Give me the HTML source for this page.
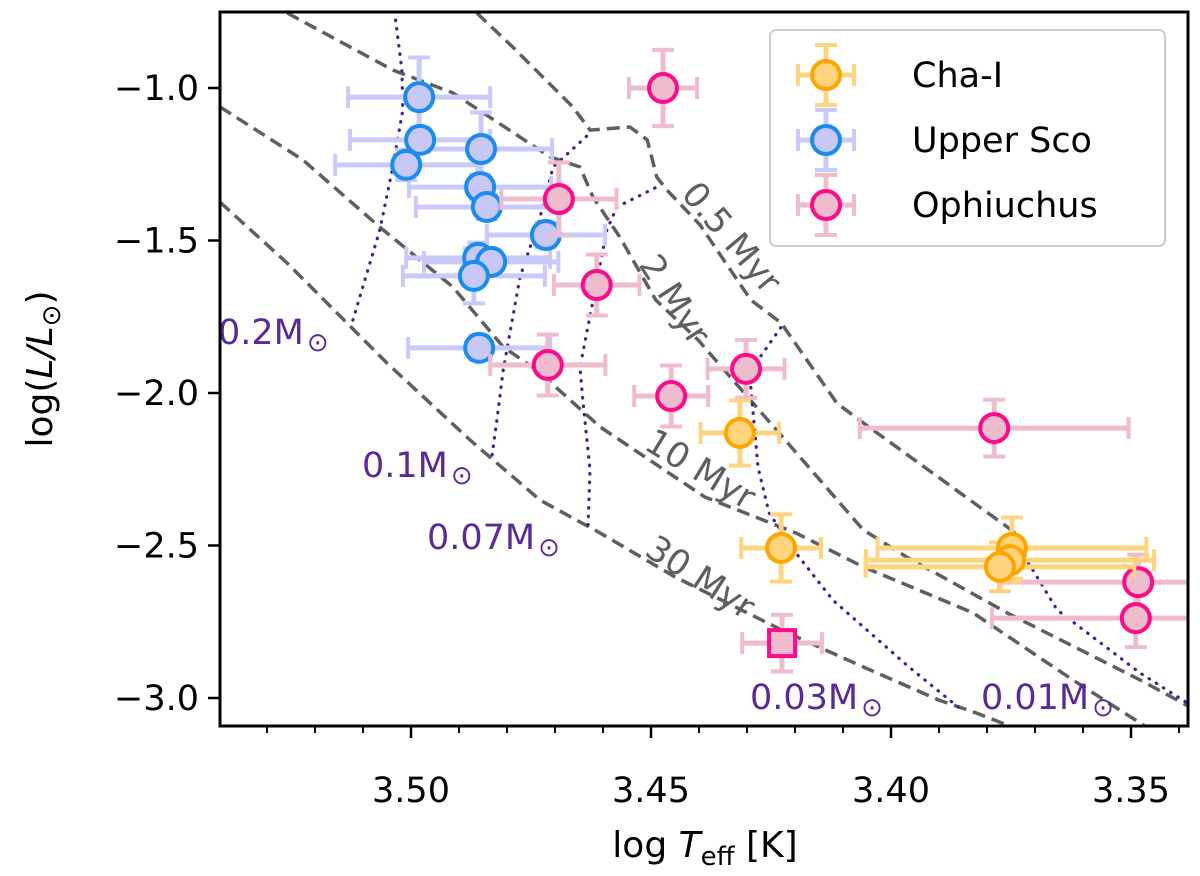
<!DOCTYPE html>
<html><head><meta charset="utf-8"><style>
html,body{margin:0;padding:0;background:#fff;}
svg{display:block;font-family:"DejaVu Sans","Liberation Sans",sans-serif;}
</style></head><body>
<svg id="chart" width="1200" height="876" viewBox="0 0 1200 876" xmlns="http://www.w3.org/2000/svg">
<defs><clipPath id="plotclip"><rect x="220" y="12" width="968" height="714"/></clipPath></defs>
<g id="plot" clip-path="url(#plotclip)"></g>
<g id="labels"></g>
<g id="axes"></g>
</svg>
<script>
// ---- data ----
const xTicks = [3.50, 3.45, 3.40, 3.35];
const xTickLabels = ["3.50", "3.45", "3.40", "3.35"];
const xMinor = [3.53,3.52,3.51,3.49,3.48,3.47,3.46,3.44,3.43,3.42,3.41,3.39,3.38,3.37,3.36,3.34];
const yTicks = [-1.0, -1.5, -2.0, -2.5, -3.0];
const yTickLabels = ["\u22121.0", "\u22121.5", "\u22122.0", "\u22122.5", "\u22123.0"];

const usT = [3.4983,3.4981,3.5010,3.4854,3.4856,3.4842,3.4719,3.4860,3.4833,3.4869,3.4858];
const usL = [-1.030,-1.170,-1.252,-1.200,-1.325,-1.390,-1.482,-1.557,-1.570,-1.616,-1.852];
const usTerr = [0.0148,0.0146,0.0148,0.0148,0.0148,0.0148,0.0123,0.0150,0.0140,0.0148,0.0148];
const usLerr = [0.13,0.04,0.05,0.12,0.04,0.04,0.04,0.05,0.04,0.09,0.04];

const ophT = [3.4475,3.4692,3.4613,3.4715,3.4458,3.4302,3.3785,3.3485,3.3490];
const ophL = [-1.000,-1.364,-1.646,-1.908,-2.010,-1.921,-2.115,-2.620,-2.738];
const ophTerr = [0.0071,0.012,0.0089,0.012,0.0077,0.008,0.028,0.029,0.030];
const ophLerr = [0.125,0.12,0.10,0.10,0.10,0.095,0.093,0.09,0.095];
const sqT = [3.4227];
const sqL = [-2.820];
const sqTerr = [0.0083];
const sqLerr = [0.093];

const chaT = [3.4315,3.4229,3.3748,3.3752,3.3773];
const chaL = [-2.131,-2.508,-2.508,-2.548,-2.570];
const chaTerr = [0.0082,0.0083,0.028,0.030,0.028];
const chaLerr = [0.107,0.11,0.10,0.07,0.08];

const iso05T = [3.4863,3.4788,3.4663,3.4627,3.4544,3.4508,3.4488,3.4467,3.4398,3.4292,3.4229,3.4113,3.4058,3.3758,3.3744];
const iso05L = [-0.754,-0.866,-1.062,-1.138,-1.128,-1.170,-1.292,-1.334,-1.449,-1.695,-1.770,-2.033,-2.098,-2.439,-2.456];
const iso2T = [3.5258,3.5038,3.4913,3.4710,3.4648,3.4621,3.4565,3.4490,3.4402,3.4215,3.4058,3.3967,3.3758,3.3481,3.3381];
const iso2L = [-0.754,-0.941,-1.016,-1.226,-1.259,-1.357,-1.489,-1.695,-1.826,-2.164,-2.449,-2.538,-2.721,-2.941,-3.026];
const iso10T = [3.5398,3.5225,3.5065,3.4913,3.4808,3.4738,3.4606,3.4388,3.4198,3.4058,3.3829,3.3621,3.3481,3.3471];
const iso10L = [-1.062,-1.236,-1.456,-1.652,-1.849,-1.925,-2.111,-2.341,-2.459,-2.570,-2.721,-2.941,-3.082,-3.092];
const iso30T = [3.5398,3.5258,3.5050,3.4877,3.4731,3.4606,3.4450,3.4215,3.4058,3.3900,3.3823,3.3752];
const iso30L = [-1.374,-1.574,-1.902,-2.154,-2.351,-2.459,-2.603,-2.787,-2.898,-3.007,-3.049,-3.092];

const m02T = [3.5121,3.5065,3.5038,3.5017,3.5019,3.5033];
const m02L = [-1.761,-1.466,-1.259,-1.072,-0.941,-0.767];
const m01T = [3.4831,3.4821,3.4808,3.4773,3.4731,3.4704,3.4627];
const m01L = [-2.203,-2.089,-1.925,-1.620,-1.423,-1.259,-1.148];
const m007T = [3.4631,3.4627,3.4642,3.4648,3.4592,3.4571,3.4488];
const m007L = [-2.433,-2.252,-2.023,-1.915,-1.466,-1.390,-1.325];
const m003T = [3.3860,3.3963,3.4121,3.4198,3.4254,3.4277,3.4292,3.4277,3.4229];
const m003L = [-3.030,-2.898,-2.679,-2.525,-2.393,-2.243,-1.980,-1.892,-1.784];
const m001T = [3.3744,3.3717,3.3654,3.3481,3.3383];
const m001L = [-2.456,-2.548,-2.711,-2.918,-3.016];

// ---- axes ----
const X0=220, X1=1188, Y0=12, Y1=726;
function xs(v){ return 411 + (3.50 - v) * 4800; }
function ys(v){ return 88 + (-1.0 - v) * 305; }

const NS="http://www.w3.org/2000/svg";
function mk(tag, attrs, parent){
  const e=document.createElementNS(NS,tag);
  for(const k in attrs) e.setAttribute(k, attrs[k]);
  parent.appendChild(e); return e;
}
const plot=document.getElementById('plot');
const labels=document.getElementById('labels');
const axes=document.getElementById('axes');

function poly(T,L,style,name){
  const pts=T.map((t,i)=>xs(t).toFixed(1)+','+ys(L[i]).toFixed(1)).join(' ');
  const e=mk('polyline',Object.assign({points:pts,fill:'none'},style),plot);
  
  
}
const dashed={stroke:'#5f5f5f','stroke-width':3.5,'stroke-dasharray':'13,7'};
const dotted={stroke:'#4b1f8c','stroke-width':3.2,'stroke-dasharray':'0.5,8','stroke-linecap':'round'};
poly(iso05T,iso05L,dashed,'isochrone-0.5myr');
poly(iso2T,iso2L,dashed,'isochrone-2myr');
poly(iso10T,iso10L,dashed,'isochrone-10myr');
poly(iso30T,iso30L,dashed,'isochrone-30myr');
poly(m02T,m02L,dotted,'track-0.2msun');
poly(m01T,m01L,dotted,'track-0.1msun');
poly(m007T,m007L,dotted,'track-0.07msun');
poly(m003T,m003L,dotted,'track-0.03msun');
poly(m001T,m001L,dotted,'track-0.01msun');

function errbar(cx,cy,dx,dy,col,g){
  const w=5, c=11;
  mk('line',{x1:cx-dx,y1:cy,x2:cx+dx,y2:cy,stroke:col,'stroke-width':w},g);
  mk('line',{x1:cx,y1:cy-dy,x2:cx,y2:cy+dy,stroke:col,'stroke-width':w},g);
  mk('line',{x1:cx-dx,y1:cy-c,x2:cx-dx,y2:cy+c,stroke:col,'stroke-width':4},g);
  mk('line',{x1:cx+dx,y1:cy-c,x2:cx+dx,y2:cy+c,stroke:col,'stroke-width':4},g);
  mk('line',{x1:cx-c,y1:cy-dy,x2:cx+c,y2:cy-dy,stroke:col,'stroke-width':4},g);
  mk('line',{x1:cx-c,y1:cy+dy,x2:cx+c,y2:cy+dy,stroke:col,'stroke-width':4},g);
}
function series(T,L,Te,Le,errCol,fill,edge,shape,name){
  const gE=mk('g',{},plot);
  
  
  T.forEach((t,i)=>{
    errbar(xs(t),ys(L[i]),Te[i]*4800,Le[i]*305,errCol,gE);
  });
  const gM=mk('g',{},plot);
  
  
  T.forEach((t,i)=>{
    const cx=xs(t), cy=ys(L[i]);
    let m;
    if(shape==='sq') m=mk('rect',{x:cx-13,y:cy-13,width:26,height:26,fill:fill,stroke:edge,'stroke-width':4},gM);
    else m=mk('circle',{cx:cx,cy:cy,r:14,fill:fill,stroke:edge,'stroke-width':4},gM);
    
    
  });
}
const BL={err:'#c9c9fb',fill:'#c8c8f6',edge:'#1a8cf0'};
const PK={err:'#efbccd',fill:'#eebccd',edge:'#ff0a8a'};
const OR={err:'#ffd47f',fill:'#ffd47c',edge:'#ffa500'};
series(usT,usL,usTerr,usLerr,BL.err,BL.fill,BL.edge,'c','upper-sco');
series(ophT,ophL,ophTerr,ophLerr,PK.err,PK.fill,PK.edge,'c','ophiuchus');
series(sqT,sqL,sqTerr,sqLerr,PK.err,PK.fill,PK.edge,'sq','ophiuchus-square');
series(chaT,chaL,chaTerr,chaLerr,OR.err,OR.fill,OR.edge,'c','cha-i');

// ---- annotations ----
function txt(x,y,s,attrs,parent,name){
  const e=mk('text',Object.assign({x:x,y:y},attrs),parent);
  e.textContent=s;
  
  
  return e;
}
const massLab=[["0.2M",218,344],["0.1M",362,477],["0.07M",427,549],["0.03M",750,709],["0.01M",981,709]];
massLab.forEach(m=>{
  const t=txt(m[1],m[2],m[0],{'font-size':35,fill:'#5b2a99'},labels,'mass-label');
  const ts=mk('tspan',{'font-size':26,dx:3,dy:7},t);
  ts.textContent='\u2299';
});
const isoLab=[["0.5 Myr",731,238,50],["2 Myr",674,300,57],["10 Myr",700,470,31],["30 Myr",700,578,33]];
isoLab.forEach(l=>{
  txt(l[1],l[2],l[0],{'font-size':35,fill:'#5f5f5f','text-anchor':'middle','dominant-baseline':'central',transform:'rotate('+l[3]+' '+l[1]+' '+l[2]+')'},labels,'isochrone-label');
});

// ---- legend ----
const lg=mk('g',{},labels);


mk('rect',{x:770,y:30,width:395,height:216,rx:6,fill:'#fff','fill-opacity':0.85,stroke:'#cccccc','stroke-width':2},lg);
const legNames=["Cha-I","Upper Sco","Ophiuchus"];
const legCols=[OR,BL,PK];
const legY=[75,140,205];
legNames.forEach((n,i)=>{
  const g=mk('g',{},lg);
  
  
  const c=legCols[i];
  errbar(826,legY[i],28,30,c.err,g);
  mk('circle',{cx:826,cy:legY[i],r:14,fill:c.fill,stroke:c.edge,'stroke-width':4},g);
  txt(912,legY[i]+12,n,{'font-size':35,fill:'#000'},g,'legend-label');
});

// ---- axes frame & ticks ----
mk('rect',{x:X0,y:Y0,width:X1-X0,height:Y1-Y0,fill:'none',stroke:'#000','stroke-width':3},axes);
xTicks.forEach((v,i)=>{
  const x=xs(v);
  mk('line',{x1:x,y1:Y1,x2:x,y2:Y1+12,stroke:'#000','stroke-width':2.5},axes);
  txt(x,802,xTickLabels[i],{'font-size':35,'text-anchor':'middle'},axes,'x-tick-label');
});
xMinor.forEach(v=>{
  const x=xs(v);
  mk('line',{x1:x,y1:Y1,x2:x,y2:Y1+7,stroke:'#000','stroke-width':2},axes);
});
yTicks.forEach((v,i)=>{
  const y=ys(v);
  mk('line',{x1:X0-12,y1:y,x2:X0,y2:y,stroke:'#000','stroke-width':2.5},axes);
  txt(199,y+12,yTickLabels[i],{'font-size':35,'text-anchor':'end'},axes,'y-tick-label');
});
const xt=txt(705,857,'log ',{'font-size':36,'text-anchor':'middle'},axes,'x-axis-title');
let s1=mk('tspan',{'font-style':'italic'},xt); s1.textContent='T';
let s2=mk('tspan',{'font-size':26,dy:8},xt); s2.textContent='eff';
let s3=mk('tspan',{dy:-8},xt); s3.textContent=' [K]';
const yt=txt(52,369,'log(',{'font-size':36,'text-anchor':'middle',transform:'rotate(-90 52 369)'},axes,'y-axis-title');
let u1=mk('tspan',{'font-style':'italic'},yt); u1.textContent='L/L';
let u2=mk('tspan',{'font-size':26,dy:8},yt); u2.textContent='\u2299';
let u3=mk('tspan',{dy:-8},yt); u3.textContent=')';
</script>
</body></html>
